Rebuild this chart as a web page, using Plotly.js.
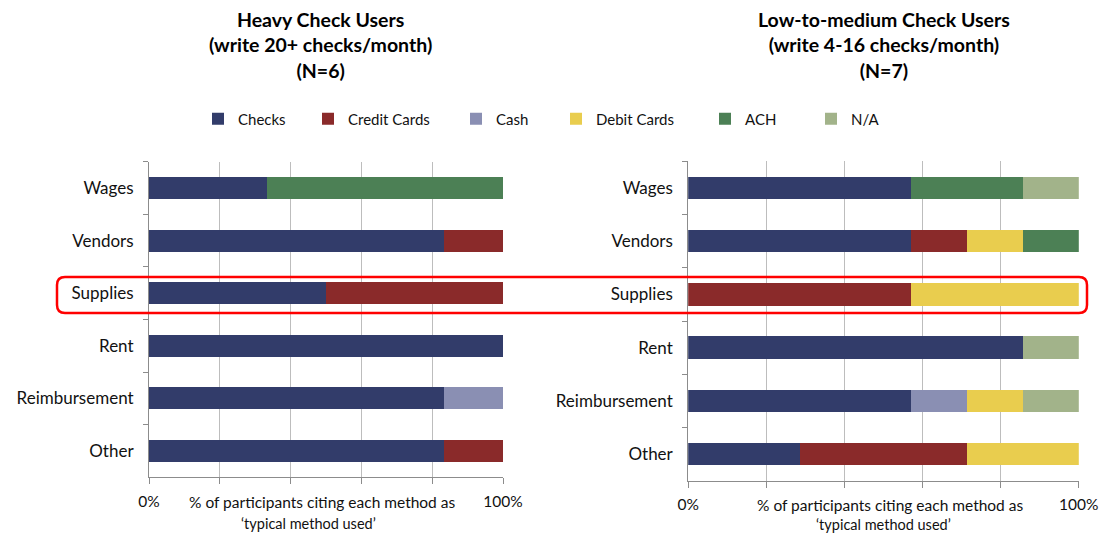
<!DOCTYPE html>
<html>
<head>
<meta charset="utf-8">
<script src="https://cdn.plot.ly/plotly-3.0.1.min.js"></script>
<style>html,body{margin:0;padding:0;background:#fff;}#chart{width:1104px;height:533px;}</style>
</head>
<body>
<div id="chart"></div>
<script>
// ---- Data (percent of participants) ----
const categories = ['Wages', 'Vendors', 'Supplies', 'Rent', 'Reimbursement', 'Other'];
const seriesNames = ['Checks', 'Credit Cards', 'Cash', 'Debit Cards', 'ACH', 'N/A'];

// Heavy Check Users (N=6)
const heavyChecks = [33.3, 83.3, 50.0, 100.0, 83.3, 83.3];
const heavyCredit = [0, 16.7, 50.0, 0, 0, 16.7];
const heavyCash   = [0, 0, 0, 0, 16.7, 0];
const heavyDebit  = [0, 0, 0, 0, 0, 0];
const heavyACH    = [66.7, 0, 0, 0, 0, 0];
const heavyNA     = [0, 0, 0, 0, 0, 0];

// Low-to-medium Check Users (N=7)
const lowChecks = [57.1, 57.1, 0, 85.7, 57.1, 28.6];
const lowCredit = [0, 14.3, 57.1, 0, 0, 42.8];
const lowCash   = [0, 0, 0, 0, 14.3, 0];
const lowDebit  = [0, 14.3, 42.9, 0, 14.3, 28.6];
const lowACH    = [28.6, 14.3, 0, 0, 0, 0];
const lowNA     = [14.3, 0, 0, 14.3, 14.3, 0];

const xTickVals = [0, 20, 40, 60, 80, 100];
const xTickText = ['0%', '', '', '', '', '100%'];

const leftTitle = 'Heavy Check Users<br>(write 20+ checks/month)<br>(N=6)';
const rightTitle = 'Low-to-medium Check Users<br>(write 4-16 checks/month)<br>(N=7)';
const axisTitle1 = '% of participants citing each method as';
const axisTitle2 = '\u2018typical method used\u2019';

// ---- Styling ----
const colors = ['#323c6a', '#8a2a2a', '#8a8fb3', '#e9cd4e', '#4c8055', '#a2b38a'];
const W = 1104, H = 533;
const fx = p => p / W;
const fy = p => 1 - p / H;
const FONT = 'Lato, "Open Sans", sans-serif';

const heavy = [heavyChecks, heavyCredit, heavyCash, heavyDebit, heavyACH, heavyNA];
const low = [lowChecks, lowCredit, lowCash, lowDebit, lowACH, lowNA];

const traces = [];
seriesNames.forEach((name, i) => {
  traces.push({
    type: 'bar', orientation: 'h', name: name,
    y: categories, x: heavy[i],
    xaxis: 'x', yaxis: 'y',
    marker: {color: colors[i], line: {width: 0}},
    legendgroup: name, showlegend: true,
    legend: i === 0 ? 'legend' : 'legend' + (i + 1),
    hoverinfo: 'x+y+name'
  });
});
seriesNames.forEach((name, i) => {
  traces.push({
    type: 'bar', orientation: 'h', name: name,
    y: categories, x: low[i],
    xaxis: 'x2', yaxis: 'y2',
    marker: {color: colors[i], line: {width: 0}},
    legendgroup: name, showlegend: false,
    hoverinfo: 'x+y+name'
  });
});

// legend item positions (left edge of each item, px)
const legendX = [198, 308, 456, 556, 705, 811];
const legendY = 119;

function xaxis(domain) {
  return {
    domain: domain, range: [0, 100], fixedrange: true,
    tickmode: 'array', tickvals: xTickVals, ticktext: xTickText,
    showgrid: true, gridcolor: '#bdbdbd', gridwidth: 1,
    showline: true, linecolor: '#8c8c8c', linewidth: 1,
    ticks: 'outside', ticklen: 6, tickcolor: '#8c8c8c',
    ticklabelstandoff: 4,
    tickfont: {family: FONT, size: 15.5, color: '#111'},
    zeroline: false
  };
}
function yaxis(domain, anchor) {
  return {
    domain: domain, anchor: anchor, autorange: 'reversed', fixedrange: true,
    showgrid: false, showline: true, linecolor: '#8c8c8c', linewidth: 1,
    ticks: 'outside', ticklen: 5, tickcolor: '#8c8c8c', tickson: 'boundaries',
    ticklabelstandoff: 11,
    tickfont: {family: FONT, size: 17, color: '#111'}
  };
}

const layout = {
  width: W, height: H,
  margin: {l: 0, r: 0, t: 0, b: 0},
  paper_bgcolor: '#fff', plot_bgcolor: '#fff',
  barmode: 'stack', bargap: 0.58,
  font: {family: FONT, color: '#111'},
  xaxis: Object.assign(xaxis([fx(149), fx(503)]), {anchor: 'y'}),
  yaxis: yaxis([fy(477.3), fy(161.7)], 'x'),
  xaxis2: Object.assign(xaxis([fx(688.2), fx(1078.8)]), {anchor: 'y2'}),
  yaxis2: yaxis([fy(480.6), fy(161.4)], 'x2'),
  annotations: [
    {xref: 'x domain', yref: 'paper', x: 0.485, y: fy(45), text: leftTitle, showarrow: false,
     font: {family: FONT, size: 19.5, color: '#000', weight: 'bold'}, xanchor: 'center', yanchor: 'middle'},
    {xref: 'x2 domain', yref: 'paper', x: 0.5, y: fy(45), text: rightTitle, showarrow: false,
     font: {family: FONT, size: 19.5, color: '#000', weight: 'bold'}, xanchor: 'center', yanchor: 'middle'},
    {xref: 'x domain', yref: 'paper', x: 0.49, y: fy(502), text: axisTitle1, showarrow: false,
     font: {family: FONT, size: 15.5, color: '#111'}, xanchor: 'center', yanchor: 'middle'},
    {xref: 'x domain', yref: 'paper', x: 0.45, y: fy(523), text: axisTitle2, showarrow: false,
     font: {family: FONT, size: 14.5, color: '#111'}, xanchor: 'center', yanchor: 'middle'},
    {xref: 'x2 domain', yref: 'paper', x: 0.517, y: fy(505), text: axisTitle1, showarrow: false,
     font: {family: FONT, size: 15.5, color: '#111'}, xanchor: 'center', yanchor: 'middle'},
    {xref: 'x2 domain', yref: 'paper', x: 0.5, y: fy(524), text: axisTitle2, showarrow: false,
     font: {family: FONT, size: 14.5, color: '#111'}, xanchor: 'center', yanchor: 'middle'}
  ],
  shapes: []
};

// one legend per item so the spacing matches the reference
legendX.forEach((lx, i) => {
  const key = i === 0 ? 'legend' : 'legend' + (i + 1);
  layout[key] = {
    orientation: 'h', x: fx(lx), y: fy(legendY), xanchor: 'left', yanchor: 'middle',
    font: {family: FONT, size: 15, color: '#111'}, bgcolor: 'rgba(0,0,0,0)',
    itemwidth: 30, itemclick: false, itemdoubleclick: false
  };
});

// rounded red highlight rectangle around "Supplies"
(function () {
  const x0 = 57, x1 = 1087, y0 = 277, y1 = 313, r = 8;
  const P = (x, y) => fx(x) + ',' + fy(y);
  const path = 'M' + P(x0 + r, y0) + ' L' + P(x1 - r, y0) + ' Q' + P(x1, y0) + ' ' + P(x1, y0 + r) +
    ' L' + P(x1, y1 - r) + ' Q' + P(x1, y1) + ' ' + P(x1 - r, y1) +
    ' L' + P(x0 + r, y1) + ' Q' + P(x0, y1) + ' ' + P(x0, y1 - r) +
    ' L' + P(x0, y0 + r) + ' Q' + P(x0, y0) + ' ' + P(x0 + r, y0) + ' Z';
  layout.shapes.push({type: 'path', xref: 'paper', yref: 'paper', path: path,
    line: {color: '#ff0000', width: 2.5}, fillcolor: 'rgba(0,0,0,0)', layer: 'above'});
})();

Plotly.newPlot('chart', traces, layout, {displayModeBar: false, staticPlot: true});
</script>
</body>
</html>
